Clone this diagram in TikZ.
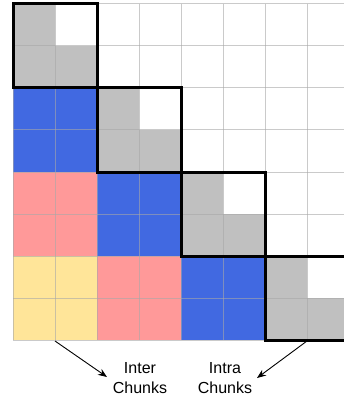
\documentclass[tikz,border=0pt]{standalone}
\usepackage{fontspec}
\setmainfont{Liberation Sans}
\usetikzlibrary{arrows.meta}
\definecolor{cgray}{HTML}{C0C0C0}
\definecolor{cblue}{HTML}{4169E1}
\definecolor{cpink}{HTML}{FF9999}
\definecolor{cyellow}{HTML}{FFE599}
\definecolor{cgrid}{HTML}{A8A8A8}
\tikzset{
  gridline/.style={draw=cgrid, draw opacity=0.6, line width=1pt},
  blockbox/.style={draw=black, line width=3pt},
  label/.style={font=\fontsize{16}{20}\selectfont, align=center, inner sep=0pt, anchor=north},
  pointer/.style={draw=black, line width=0.9pt, -{Stealth[length=9pt,width=7pt]}}
}
\begin{document}
\begin{tikzpicture}[x=1pt,y=-1pt]
\useasboundingbox (0,0) rectangle (344,398);
\fill[white] (0,0) rectangle (344,398);
\begin{scope}
\clip (0,0) rectangle (344,398);
% diagonal blocks (gray lower triangle incl. diagonal)
\foreach \k in {0,1,2,3}{
  \pgfmathsetmacro{\bx}{13+84*\k}
  \pgfmathsetmacro{\by}{4+84*\k}
  \fill[cgray] (\bx,\by) rectangle ++(42,42);
  \fill[cgray] (\bx,\by+42) rectangle ++(84,42);
}
% off-diagonal blocks
\fill[cblue] (13,88) rectangle ++(84,84);
\fill[cblue] (97,172) rectangle ++(84,84);
\fill[cblue] (181,256) rectangle ++(84,84);
\fill[cpink] (13,172) rectangle ++(84,84);
\fill[cpink] (97,256) rectangle ++(84,84);
\fill[cyellow] (13,256) rectangle ++(84,84);
% grid
\foreach \i in {0,...,8}{
  \draw[gridline] (13+42*\i,4) -- (13+42*\i,340);
  \draw[gridline] (13,4+42*\i) -- (349,4+42*\i);
}
% block outlines
\foreach \k in {0,1,2,3}{
  \draw[blockbox] (13+84*\k,4+84*\k) rectangle ++(84,84);
}
\end{scope}
% labels
\node[label] (inter) at (140,362) {Inter\\Chunks};
\node[label] (intra) at (225,362) {Intra\\Chunks};
\coordinate (interstart) at (55,341);
\coordinate (intrastart) at (307,341);
\coordinate (intertip) at (107,377);
\coordinate (intratip) at (257,378);
\draw[pointer] (interstart) -- (intertip);
\draw[pointer] (intrastart) -- (intratip);
\end{tikzpicture}
\end{document}
